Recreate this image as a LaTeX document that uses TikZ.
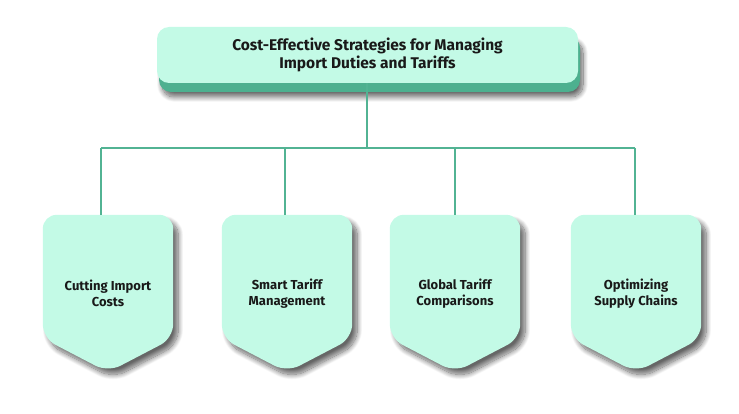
\documentclass[tikz,border=0pt]{standalone}
\usepackage{fontspec}
\setmainfont{Fira Sans}
\usetikzlibrary{calc,shadows.blur,backgrounds}
\definecolor{mint}{HTML}{C3FAE6}
\definecolor{deepgreen}{HTML}{4DB08F}
\definecolor{linegreen}{HTML}{52B393}
\tikzset{
  conn/.style={draw=linegreen, line width=1.2pt},
  cardtext/.style={minimum width=130pt, minimum height=157pt, align=center, font=\fontsize{13}{16}\selectfont\bfseries, text=black!90},
  cardshape/.style={fill=mint, rounded corners=14pt, blur shadow={shadow xshift=5pt, shadow yshift=-6pt, shadow blur steps=14, shadow opacity=60, shadow blur radius=5pt}},
}
\newcommand{\cardpath}[1]{
  \path[cardshape] (#1.north west) -- (#1.north east) -- ($(#1.south east)+(0,-34)$) -- (#1.south) -- ($(#1.south west)+(0,-34)$) -- cycle;
}
\begin{document}
\begin{tikzpicture}[x=1pt,y=-1pt]
\useasboundingbox (0,0) rectangle (739,414);
% title
\path[fill=deepgreen, rounded corners=12pt, blur shadow={shadow xshift=3pt, shadow yshift=-5pt, shadow blur steps=14, shadow opacity=60, shadow blur radius=5pt}] (159,36) rectangle (580,92);
\node[fill=mint, rounded corners=12pt, minimum width=421pt, minimum height=56pt, align=center, font=\fontsize{15.5}{18.5}\selectfont\bfseries, text=black!90] (title) at (367.5,55) {Cost-Effective Strategies for Managing\\Import Duties and Tariffs};
% cards
\node[cardtext] (c1) at (108,293.5) {Cutting Import\\Costs};
\node[cardtext] (c2) at (287,293.5) {Smart Tariff\\Management};
\node[cardtext] (c3) at (455,293.5) {Global Tariff\\Comparisons};
\node[cardtext] (c4) at (636,293.5) {Optimizing\\Supply Chains};
\begin{pgfonlayer}{background}
\cardpath{c1}\cardpath{c2}\cardpath{c3}\cardpath{c4}
\end{pgfonlayer}
% connectors
\coordinate (bus) at (367,148);
\coordinate (j1) at (101,148);
\coordinate (j2) at (285,148);
\coordinate (j3) at (455,148);
\coordinate (j4) at (635,148);
\draw[conn] (title.south -| bus) -- (bus);
\draw[conn] (j1) -- (j4);
\draw[conn] (j1) -- (j1 |- c1.north);
\draw[conn] (j2) -- (j2 |- c2.north);
\draw[conn] (j3) -- (j3 |- c3.north);
\draw[conn] (j4) -- (j4 |- c4.north);
\end{tikzpicture}
\end{document}
